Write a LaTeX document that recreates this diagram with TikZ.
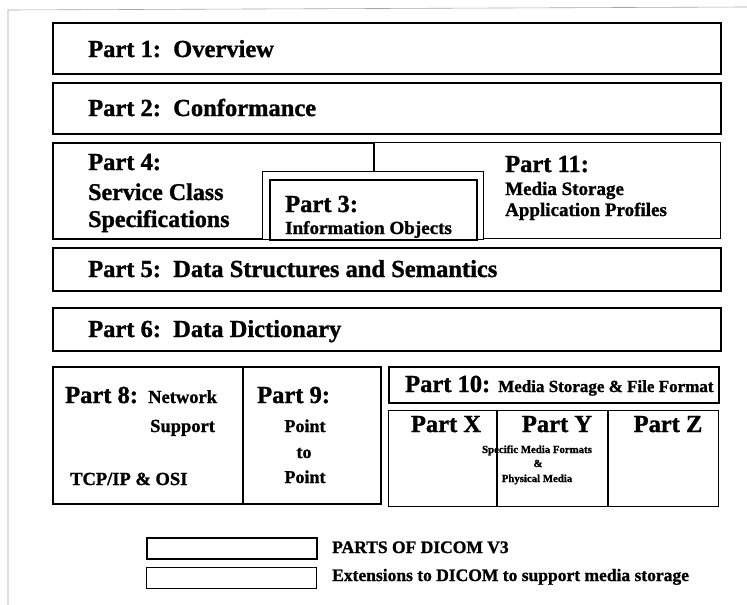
\documentclass[tikz,border=0pt]{standalone}
\usepackage{fontspec}
\setmainfont{Liberation Serif}[BoldFeatures={FakeBold=1.2}]
\begin{document}
\begin{tikzpicture}[x=1pt,y=-1pt,
  partbox/.style={draw, line width=1.8pt, inner sep=0pt, anchor=north west},
  extbox/.style={draw, line width=1.1pt, inner sep=0pt, anchor=north west},
  lbl/.style={anchor=base west, inner sep=0pt, font=\bfseries\fontsize{24.5}{26}\selectfont},
  sub/.style={anchor=base west, inner sep=0pt, font=\bfseries\fontsize{19}{20}\selectfont},
  tiny/.style={anchor=base, inner sep=0pt, font=\bfseries\fontsize{10.8}{11}\selectfont},
  legend/.style={anchor=base west, inner sep=0pt, font=\bfseries\fontsize{17.5}{19}\selectfont}]
\useasboundingbox (0,0) rectangle (747,605);

% faint page frame
\coordinate (fa) at (8,605);
\coordinate (fb) at (8,10);
\coordinate (fc) at (747,7);
\draw[gray!70, line width=0.6pt] (fa) -- (fb) -- (fc);

% full-width parts
\node[partbox, minimum width=668pt, minimum height=51pt] (p1) at (52,22) {};
\node[lbl] (t1) at (88,57) {Part 1:\ \ Overview};
\node[partbox, minimum width=668pt, minimum height=51pt] (p2) at (52,82) {};
\node[lbl] (t2) at (88,116) {Part 2:\ \ Conformance};

% Part 4 / Part 11 band with Part 3 on top
\node[partbox, minimum width=321pt, minimum height=96pt] (p4) at (52,142) {};
\node[extbox, minimum width=347pt, minimum height=96pt] (p11) at (373,142) {};
\node[extbox, fill=white, minimum width=221pt, minimum height=68pt] (p3o) at (262,171) {};
\node[partbox, minimum width=207pt, minimum height=60pt] (p3) at (269,179) {};

\node[lbl] (t4a) at (88,170) {Part 4:};
\node[lbl, font=\bfseries\fontsize{24}{26}\selectfont] (t4b) at (88,200) {Service Class};
\node[lbl, font=\bfseries\fontsize{24}{26}\selectfont] (t4c) at (88,227) {Specifications};

\node[lbl] (t3a) at (285,212) {Part 3:};
\node[sub, font=\bfseries\fontsize{18.5}{20}\selectfont, xscale=1.03] (t3b) at (285,234) {Information Objects};

\node[lbl] (t11a) at (505,172) {Part 11:};
\node[sub] (t11b) at (505,195) {Media Storage};
\node[sub] (t11c) at (505,216) {Application Profiles};

% Part 5 and Part 6
\node[partbox, minimum width=668pt, minimum height=43pt] (p5) at (52,247) {};
\node[lbl] (t5) at (88,277) {Part 5:\ \ Data Structures and Semantics};
\node[partbox, minimum width=668pt, minimum height=43pt] (p6) at (52,307) {};
\node[lbl] (t6) at (88,337) {Part 6:\ \ Data Dictionary};

% Part 8 / Part 9
\node[partbox, minimum width=328pt, minimum height=137pt] (p89) at (52,366) {};
\coordinate (d89a) at (243,366);
\coordinate (d89b) at (243,503);
\draw[line width=1.4pt] (d89a) -- (d89b);
\node[lbl] (t8a) at (65,403) {Part 8:};
\node[sub, font=\bfseries\fontsize{18.5}{20}\selectfont] (t8b) at (148,403) {Network};
\node[sub, font=\bfseries\fontsize{18.5}{20}\selectfont] (t8c) at (150,432) {Support};
\node[sub, font=\bfseries\fontsize{18.5}{20}\selectfont] (t8d) at (70,485) {TCP/IP \& OSI};
\node[lbl] (t9a) at (257,403) {Part 9:};
\node[sub, anchor=base, font=\bfseries\fontsize{18}{20}\selectfont] (t9b) at (305,432) {Point};
\node[sub, anchor=base, font=\bfseries\fontsize{18}{20}\selectfont] (t9c) at (304,458) {to};
\node[sub, anchor=base, font=\bfseries\fontsize{18}{20}\selectfont] (t9d) at (305,483) {Point};

% Part 10 and media parts X, Y, Z
\node[extbox, line width=1.6pt, minimum width=330pt, minimum height=36pt] (p10) at (388,366) {};
\node[lbl] (t10a) at (405,392) {Part 10:};
\node[sub, font=\bfseries\fontsize{17}{19}\selectfont] (t10b) at (498,392) {Media Storage \& File Format};

\node[extbox, minimum width=330pt, minimum height=96pt] (pxyz) at (388,410) {};
\coordinate (dxa) at (497,410);
\coordinate (dxb) at (497,506);
\coordinate (dya) at (608,410);
\coordinate (dyb) at (608,506);
\draw[line width=1.1pt] (dxa) -- (dxb);
\draw[line width=1.1pt] (dya) -- (dyb);
\node[lbl, anchor=base] (tx) at (446,432) {Part X};
\node[lbl, anchor=base] (ty) at (557,432) {Part Y};
\node[lbl, anchor=base] (tz) at (668,432) {Part Z};
\node[tiny] (ty1) at (537,453) {Specific Media Formats};
\node[tiny] (ty2) at (538,467) {\&};
\node[tiny] (ty3) at (537,482) {Physical Media};

% legend
\node[partbox, minimum width=170pt, minimum height=21pt] (lg1) at (146,537) {};
\node[legend] (lt1) at (332,553) {PARTS OF DICOM V3};
\node[extbox, minimum width=170pt, minimum height=21pt] (lg2) at (146,567) {};
\node[legend] (lt2) at (332,581) {Extensions to DICOM to support media storage};
\end{tikzpicture}
\end{document}
